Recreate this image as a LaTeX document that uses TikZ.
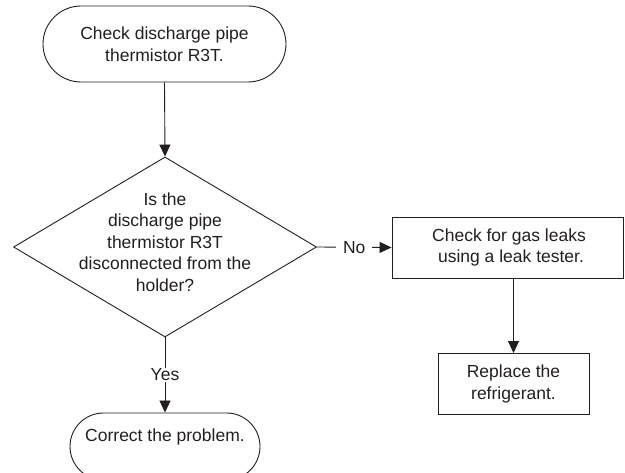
\documentclass[tikz,border=0pt]{standalone}
\usepackage{fontspec}
\setmainfont{Liberation Sans}
\usetikzlibrary{shapes.geometric,shapes.misc,arrows.meta}
\definecolor{ink}{HTML}{231F20}
\tikzset{
  every node/.style={font=\fontsize{17.5pt}{21.5pt}\selectfont, text=ink, align=center},
  line/.style={draw=ink, line width=0.9pt},
  arr/.style={line, -{Triangle[width=11pt,length=12pt]}},
  term/.style={line, rounded rectangle, inner sep=0pt},
  proc/.style={line, rectangle, inner sep=0pt},
  decis/.style={line, diamond, inner sep=0pt},
  lbl/.style={fill=white, inner xsep=6pt, inner ysep=2pt}
}
\begin{document}
\begin{tikzpicture}[x=1pt,y=-1pt]
\useasboundingbox (0,0) rectangle (625,473);
\clip (0,0) rectangle (625,473);
\fill[white] (0,0) rectangle (625,473);
\node[term, minimum width=243pt, minimum height=76pt] (start) at (164.5,44) {Check discharge pipe\\thermistor R3T.};
\node[decis, minimum width=303pt, minimum height=180pt] (dia) at (165,247) {};
\node (diatext) at (165,242) {Is the\\discharge pipe\\thermistor R3T\\disconnected from the\\holder?};
\node[proc, minimum width=231pt, minimum height=61pt] (gas) at (507.5,247.5) {\hspace{3pt}Check for gas leaks\\\hspace{7pt}using a leak tester.};
\node[proc, minimum width=151pt, minimum height=61pt] (rep) at (513.5,384) {Replace the\\refrigerant.};
\node[term, minimum width=190pt, minimum height=67pt] (end) at (165,446.5) {Correct the problem.\\[1pt]};
\draw[arr] (start.south) -- (dia.north);
\draw[arr] (dia.east) -- node[lbl, inner xsep=7pt] {No} (gas.west);
\draw[arr] (rep.north |- gas.south) -- (rep.north);
\draw[arr] (dia.south) -- node[lbl, inner xsep=2pt, inner ysep=1pt] {Yes} (end.north);
\end{tikzpicture}
\end{document}
